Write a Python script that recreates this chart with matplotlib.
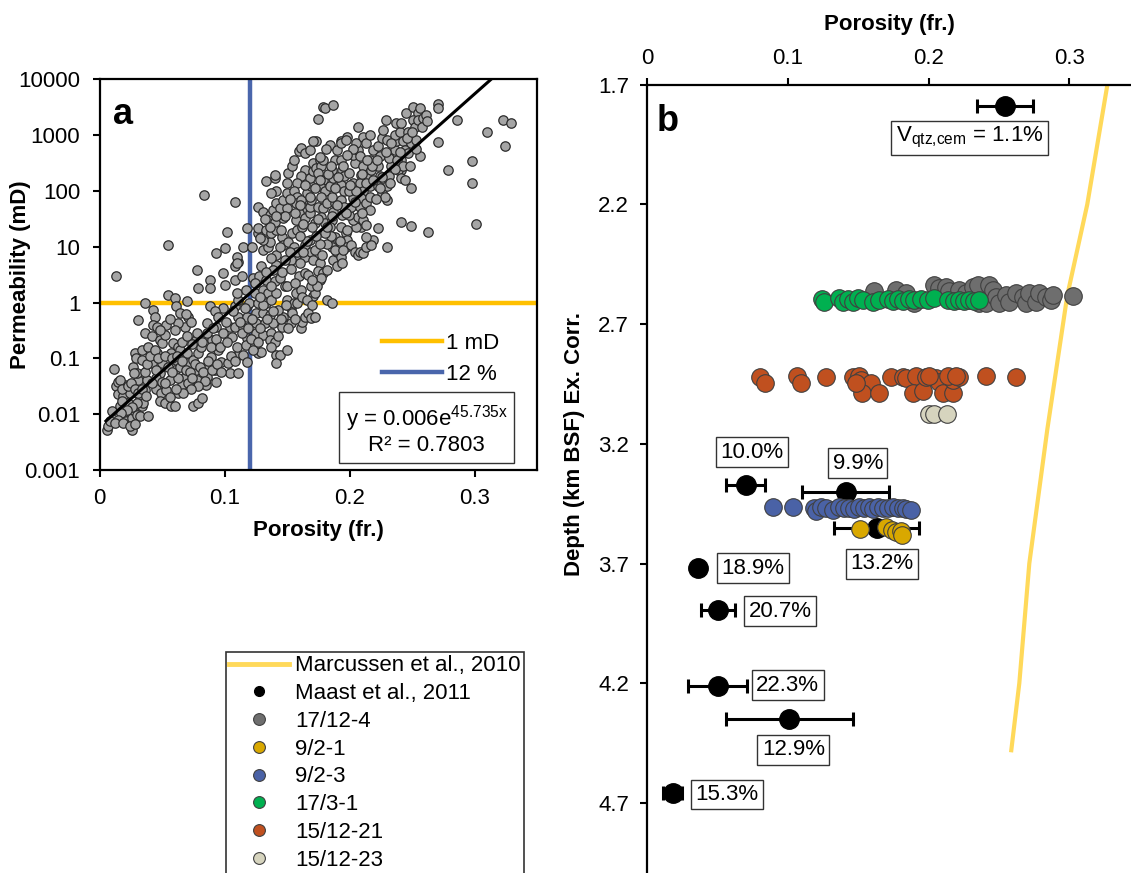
import matplotlib
matplotlib.use('Agg')
import matplotlib.pyplot as plt
from matplotlib.lines import Line2D
import numpy as np

plt.rcParams['font.family'] = ['Liberation Sans', 'DejaVu Sans']
plt.rcParams['mathtext.default'] = 'regular'

# ---------------- Panel a data: porosity (fr.) and log10 permeability (mD) -------------
por_a = [
    0.013, 0.0545, 0.0835, 0.108, 0.271, 0.271, 0.323, 0.329, 0.310, 0.324,
    0.298, 0.298, 0.3015, 0.2785, 0.271, 0.286, 0.263, 0.2495, 0.241, 0.2495,
    0.241, 0.230, 0.230, 0.2225, 0.219, 0.179, 0.180, 0.187, 0.175, 0.173,
    0.1845, 0.193, 0.198, 0.2065,
    0.006, 0.0066, 0.0083, 0.010, 0.0116, 0.013, 0.0144, 0.0144, 0.0166, 0.0185,
    0.019, 0.0205, 0.021, 0.0255, 0.0255, 0.027, 0.023, 0.030, 0.028, 0.027,
    0.029, 0.031, 0.030, 0.032, 0.034, 0.032, 0.030, 0.0277, 0.024, 0.0177,
    0.016, 0.035, 0.039, 0.0365, 0.038, 0.034, 0.031, 0.0365, 0.036, 0.034,
    0.040, 0.042, 0.043, 0.044, 0.043, 0.042, 0.039, 0.046, 0.048, 0.050,
    0.046, 0.050, 0.048, 0.045, 0.045, 0.049, 0.048, 0.052, 0.057, 0.060,
    0.053, 0.050, 0.053, 0.0545, 0.060, 0.061, 0.064, 0.070, 0.071, 0.068,
    0.063, 0.0586, 0.057, 0.063, 0.064, 0.061, 0.060, 0.056, 0.064, 0.067,
    0.070, 0.071, 0.068, 0.066, 0.071, 0.063, 0.075, 0.079, 0.082, 0.077,
    0.078, 0.075, 0.079, 0.081, 0.077, 0.0835, 0.086, 0.079, 0.078, 0.088,
    0.088, 0.088, 0.093, 0.100, 0.1015, 0.099, 0.100, 0.099, 0.092, 0.093,
    0.090, 0.095, 0.089, 0.086, 0.092, 0.086, 0.093, 0.085, 0.097, 0.103,
    0.104, 0.111, 0.111, 0.110, 0.1055, 0.104, 0.1085, 0.111, 0.1085, 0.111,
    0.110, 0.1085, 0.1085, 0.111, 0.114, 0.117, 0.118, 0.118, 0.115, 0.118,
    0.117, 0.115, 0.118, 0.110, 0.110, 0.118, 0.115, 0.122, 0.1225, 0.124,
    0.1195, 0.1265, 0.125, 0.125, 0.125, 0.124, 0.1265, 0.129, 0.1305, 0.132,
    0.1305, 0.133, 0.1305, 0.1275, 0.129, 0.133, 0.135, 0.1375, 0.136, 0.139,
    0.1375, 0.136, 0.140, 0.1415, 0.144, 0.1415, 0.150, 0.146, 0.147, 0.143,
    0.1415, 0.140, 0.144, 0.1485, 0.150, 0.153, 0.153, 0.154, 0.1555, 0.157,
    0.161, 0.1595, 0.164, 0.161, 0.162, 0.164, 0.1665, 0.169, 0.172, 0.171,
    0.172, 0.169, 0.176, 0.182, 0.186, 0.164, 0.157, 0.153, 0.148, 0.1415,
    0.139, 0.1305, 0.135, 0.136, 0.1305, 0.1265, 0.1265, 0.133, 0.1375, 0.1415,
    0.146, 0.147, 0.151, 0.1555, 0.158, 0.154, 0.158, 0.162, 0.164, 0.168,
    0.169, 0.171, 0.176, 0.175, 0.179, 0.182, 0.177, 0.187, 0.190, 0.186,
    0.190, 0.193, 0.194, 0.1885, 0.193, 0.197, 0.198, 0.197, 0.201, 0.204,
    0.2065, 0.208, 0.211, 0.2135, 0.2175, 0.2135, 0.209, 0.205, 0.2025, 0.2065,
    0.211, 0.2135,
    0.1265, 0.1305, 0.136, 0.139, 0.1415, 0.144, 0.1415, 0.1375, 0.133, 0.140,
    0.140, 0.135, 0.140, 0.147, 0.150, 0.147, 0.150, 0.150, 0.151, 0.154,
    0.1555, 0.1595, 0.161, 0.164, 0.168, 0.171, 0.164, 0.161, 0.158, 0.1555,
    0.158, 0.157, 0.161, 0.164, 0.1595, 0.157, 0.164, 0.168, 0.168, 0.169,
    0.166, 0.169, 0.168, 0.171, 0.171, 0.173, 0.176, 0.1775, 0.175, 0.179,
    0.176, 0.180, 0.1775, 0.175, 0.179, 0.182, 0.1775, 0.172, 0.180, 0.186,
    0.1845, 0.187, 0.1885, 0.186, 0.1845, 0.187, 0.186, 0.1885, 0.190, 0.193,
    0.197, 0.193, 0.194, 0.1955, 0.193, 0.1955, 0.193, 0.1955, 0.194, 0.1995,
    0.201, 0.2025, 0.1995, 0.2025, 0.1995, 0.204, 0.2025, 0.2065, 0.205, 0.211,
    0.2135, 0.216, 0.208, 0.211, 0.209, 0.208, 0.211, 0.209, 0.208, 0.2135,
    0.216, 0.216, 0.2145, 0.2175, 0.216, 0.219, 0.223, 0.226, 0.227, 0.230,
    0.2245, 0.223, 0.2245, 0.223, 0.226, 0.230, 0.2315, 0.233, 0.2315, 0.236,
    0.237, 0.236, 0.237, 0.240, 0.2425, 0.244, 0.241, 0.2385, 0.241, 0.247,
    0.2495, 0.247, 0.245, 0.251, 0.255, 0.2565, 0.251, 0.2525, 0.255, 0.259,
    0.2615, 0.2535, 0.2565, 0.241, 0.229,
    0.018, 0.023, 0.025, 0.028, 0.031, 0.034, 0.037, 0.030, 0.026, 0.022,
    0.017, 0.015, 0.012, 0.019, 0.024, 0.028,
    0.036, 0.038, 0.040, 0.044, 0.047, 0.052, 0.055, 0.058, 0.062, 0.066,
    0.069, 0.072, 0.074, 0.076, 0.080, 0.083, 0.087, 0.090, 0.094, 0.097,
    0.084, 0.079, 0.073, 0.067, 0.061, 0.056, 0.052, 0.045, 0.042, 0.063,
    0.058,
    0.066, 0.070, 0.074, 0.078, 0.082, 0.086, 0.089, 0.093, 0.096, 0.099,
    0.102, 0.105, 0.108, 0.101, 0.095, 0.091, 0.073, 0.069, 0.060, 0.056,
    0.052, 0.048,
    0.107, 0.112, 0.114, 0.116, 0.119, 0.122, 0.121, 0.123, 0.127, 0.128,
    0.131, 0.134, 0.137, 0.139, 0.143, 0.145, 0.149, 0.151, 0.156, 0.158,
    0.162, 0.166, 0.170, 0.174,
    0.124, 0.128, 0.133, 0.137, 0.141, 0.146, 0.150, 0.153, 0.156, 0.160,
    0.163, 0.167, 0.170, 0.172, 0.178, 0.182, 0.185, 0.188, 0.192, 0.195,
    0.198, 0.176, 0.180, 0.173, 0.166, 0.160, 0.152, 0.144, 0.137,
    0.205, 0.213, 0.218, 0.222, 0.226, 0.229, 0.233, 0.238, 0.243, 0.246,
    0.250, 0.253, 0.258, 0.262, 0.203, 0.198, 0.195, 0.191, 0.188, 0.183,
    0.179, 0.176, 0.172, 0.168, 0.164, 0.160, 0.156, 0.152, 0.148, 0.145,
    0.141, 0.136, 0.132, 0.128, 0.190, 0.197, 0.204, 0.210, 0.214, 0.219,
    0.224, 0.228, 0.232, 0.236, 0.240, 0.244, 0.248, 0.216, 0.221, 0.210,
    0.200, 0.185, 0.181, 0.176, 0.186, 0.182, 0.175, 0.170, 0.163,
]
log10_perm_a = [
    0.48, 1.03, 1.93, 1.81, 3.56, 3.48, 3.27, 3.21, 3.05, 2.81,
    2.54, 2.15, 1.41, 2.38, 2.87, 3.27, 1.27, 1.38, 1.45, 2.05,
    2.37, 1.84, 1.00, 1.33, 1.12, 3.51, 3.48, 3.54, 3.29, 2.89,
    2.83, 2.90, 2.96, 3.15,
    -2.29, -2.21, -2.13, -1.95, -1.19, -1.49, -1.43, -1.64, -1.86, -1.68,
    -1.98, -1.48, -2.13, -2.29, -2.07, -1.92, -1.80, -2.01, -0.91, -1.15,
    -1.00, -1.39, -1.62, -1.71, -1.86, -2.04, -1.27, -1.27, -1.62, -1.77,
    -1.39, -1.80, -2.04, -1.57, -1.39, -0.85, -0.31, 0.00, -0.55, -1.03,
    -1.06, -1.09, -0.13, -0.26, -0.40, -0.60, -0.79, -0.43, -0.67, -0.73,
    -0.91, -1.09, -1.27, -1.36, -1.54, -1.62, -1.77, -1.80, -1.86, -1.86,
    -1.57, -1.42, -0.40, 0.14, 0.08, -0.07, -0.19, 0.02, -0.25, -0.43,
    -0.37, -0.73, -0.91, -0.79, -0.85, -1.03, -1.21, -1.39, -1.15, -1.03,
    -0.91, -1.09, -1.33, -1.48, -1.45, -1.62, -1.86, -1.80, -1.71, -1.21,
    -1.39, -1.03, -0.91, -0.79, -0.67, -0.61, -0.37, 0.26, 0.59, 0.41,
    0.26, -0.07, 0.88, 0.97, 1.27, 0.53, 0.32, -0.10, -0.16, -0.43,
    -0.67, -0.85, -0.97, -1.15, -1.21, -1.33, -1.42, -1.48, -1.06, -1.09,
    -1.27, -1.27, -0.94, -0.79, -0.61, -0.43, -0.43, -0.25, -0.07, 0.05,
    0.17, 0.41, 0.65, 0.73, 0.47, 0.23, -0.07, -0.25, -0.43, -0.64,
    -0.76, -0.94, -1.06, 0.82, 0.70, 1.33, 1.00, 1.00, 0.44, 0.17,
    -0.01, -0.01, -0.19, -0.37, -0.55, -0.76, -0.91, -0.88, -0.58, -0.37,
    -0.19, -0.01, 0.23, 0.47, 0.65, 0.41, 0.17, 0.05, -0.22, -0.37,
    -0.55, -0.67, -0.70, -0.94, -0.94, -1.09, -0.85, -0.43, -0.25, -0.13,
    0.17, 0.38, 0.44, 0.29, 0.05, -0.10, -0.37, -0.19, -0.01, 0.17,
    0.23, 0.47, 0.53, -0.46, -0.34, -0.25, -0.19, -0.28, -0.25, 0.11,
    0.17, 0.29, 0.41, 0.05, -0.01, 0.82, 0.85, 0.76, 0.76, 0.68,
    0.59, 0.94, 1.00, 1.09, 1.12, 1.24, 1.33, 1.30, 1.24, 1.30,
    1.18, 1.03, 1.09, 1.00, 0.91, 1.24, 1.30, 1.36, 1.03, 1.12,
    0.91, 0.76, 0.70, 0.56, 0.53, 0.59, 0.44, 0.76, 0.65, 1.00,
    0.91, 0.82, 0.70, 1.18, 1.36, 1.24, 1.12, 1.00, 1.03, 0.91,
    0.85, 0.91, 0.88, 1.00, 1.03, 1.18, 1.36, 1.36, 1.48, 1.54,
    1.48, 1.39,
    1.72, 1.63, 1.57, 1.66, 1.78, 1.69, 1.99, 1.96, 2.17, 2.23,
    2.29, 1.48, 1.45, 1.51, 1.69, 1.84, 1.96, 2.14, 2.32, 2.44,
    2.56, 2.71, 2.77, 2.68, 2.74, 2.89, 2.38, 2.26, 2.14, 1.99,
    1.90, 1.78, 1.84, 1.69, 1.60, 1.48, 1.51, 1.60, 1.72, 1.84,
    1.96, 2.08, 2.23, 2.35, 2.50, 2.41, 2.56, 2.44, 2.32, 2.20,
    2.08, 1.99, 1.90, 1.72, 1.69, 1.78, 1.54, 1.42, 1.42, 1.48,
    1.36, 1.63, 1.78, 1.90, 2.08, 2.23, 2.38, 2.56, 2.74, 2.86,
    2.92, 2.56, 2.38, 2.26, 2.11, 1.99, 1.84, 1.72, 1.57, 1.57,
    1.72, 1.87, 1.99, 2.14, 2.32, 2.50, 2.65, 2.74, 2.86, 2.97,
    2.86, 3.00, 2.62, 2.44, 2.29, 2.14, 1.99, 1.87, 1.72, 1.78,
    1.90, 2.08, 2.23, 2.38, 2.56, 2.74, 2.80, 2.95, 3.09, 2.92,
    2.62, 2.44, 2.26, 2.08, 1.96, 2.08, 2.26, 2.44, 2.59, 2.74,
    2.89, 3.00, 3.21, 3.06, 2.89, 2.74, 2.56, 2.38, 2.23, 2.68,
    2.86, 3.06, 3.39, 3.51, 3.39, 3.48, 3.27, 3.15, 3.27, 3.30,
    3.36, 2.92, 2.62, 3.21, 3.27,
    -1.55, -1.50, -1.45, -1.55, -1.62, -1.55, -1.68, -1.80, -1.87, -1.92,
    -1.98, -2.10, -2.15, -2.15, -2.21, -2.18,
    -1.25, -1.10, -0.95, -0.85, -1.00, -0.95, -1.15, -1.00, -0.95, -1.05,
    -1.20, -1.25, -1.35, -1.10, -1.15, -1.25, -1.05, -1.20, -1.10, -1.25,
    -1.40, -1.50, -1.55, -1.62, -1.55, -1.70, -1.45, -1.20, -1.45, -1.35,
    -1.25,
    -0.70, -0.60, -0.75, -0.55, -0.70, -0.55, -0.80, -0.65, -0.80, -0.55,
    -0.70, -0.95, -1.05, -0.35, -0.25, -0.45, -0.35, -0.20, -0.50, -0.30,
    -0.58, -0.50,
    -0.15, -0.35, -0.55, -0.10, -0.45, -0.30, -0.65, -0.85, -0.70, -0.45,
    -0.05, -0.30, -0.80, -0.15, -0.60, -0.30, -0.05, -0.45, -0.30, 0.00,
    0.10, 0.05, -0.05, 0.30,
    0.35, 0.10, 0.55, 0.30, 0.85, 0.55, 0.30, 0.60, 0.35, 0.70,
    0.90, 0.50, 0.40, 0.95, 0.85, 1.05, 1.20, 0.95, 1.10, 0.95,
    1.30, 1.05, 1.25, 1.20, 1.10, 1.20, 0.90, 1.00, 0.80,
    2.00, 2.15, 2.45, 2.55, 2.25, 2.70, 2.85, 2.55, 2.45, 2.95,
    3.05, 2.75, 3.15, 3.25, 2.75, 2.65, 2.45, 2.25, 2.05, 2.30,
    2.55, 2.20, 2.05, 1.90, 2.10, 1.75, 1.60, 1.85, 1.55, 1.30,
    1.55, 1.35, 1.50, 1.15, 1.75, 1.60, 1.80, 2.30, 2.55, 2.20,
    2.05, 1.90, 2.15, 2.40, 2.70, 2.20, 2.45, 1.65, 1.85, 1.60,
    2.10, 2.45, 2.75, 2.60, 1.55, 1.35, 1.50, 1.35, 1.40,
]
perm_a = 10.0 ** np.array(log10_perm_a)

# trend line coefficients shown on the chart: y = a * exp(b x)
fit_a, fit_b = 0.006, 45.735
fit_por_range = (0.005, 0.313)
cutoff_perm = 1.0      # 1 mD
cutoff_por = 0.12      # 12 %

# ---------------- Panel b data: porosity vs depth (km BSF) -------------
marc_por = [0.327, 0.3127, 0.2985, 0.2843, 0.2715, 0.2644, 0.2587]
marc_depth = [1.70, 2.20, 2.58, 3.14, 3.70, 4.20, 4.48]

maast_por = [0.254, 0.070, 0.141, 0.163, 0.036, 0.050, 0.050, 0.101, 0.018]
maast_depth = [1.788, 3.372, 3.401, 3.550, 3.717, 3.894, 4.212, 4.350, 4.659]
maast_err = [0.020, 0.014, 0.031, 0.030, 0.0, 0.012, 0.021, 0.045, 0.007]
maast_labels = ['V$_{qtz{,}cem}$ = 1.1%', '10.0%', '9.9%', '13.2%', '18.9%',
                '20.7%', '22.3%', '12.9%', '15.3%']

w17_12_4_por = [0.1613, 0.1767, 0.1838, 0.1898, 0.2040, 0.2075, 0.2123, 0.2147, 0.2182, 0.2217,
                0.2265, 0.2312, 0.2348, 0.2360, 0.2407, 0.2431, 0.2454, 0.2478, 0.2502, 0.2549,
                0.2573, 0.2620, 0.2667, 0.2691, 0.2715, 0.2763, 0.2786, 0.2834, 0.2869, 0.2881,
                0.3023]
w17_12_4_depth = [2.560, 2.558, 2.569, 2.613, 2.537, 2.551, 2.544, 2.560, 2.599, 2.558,
                  2.571, 2.544, 2.537, 2.613, 2.613, 2.537, 2.558, 2.586, 2.613, 2.578,
                  2.606, 2.571, 2.586, 2.613, 2.571, 2.606, 2.571, 2.586, 2.599, 2.578,
                  2.583]

w9_2_1_por = [0.151, 0.170, 0.174, 0.177, 0.180, 0.181]
w9_2_1_depth = [3.555, 3.546, 3.560, 3.570, 3.565, 3.580]

w9_2_3_por = [0.0891, 0.1033, 0.1187, 0.1199, 0.1234, 0.1270, 0.1317, 0.1365, 0.1400, 0.1436,
              0.1471, 0.1507, 0.1542, 0.1578, 0.1601, 0.1637, 0.1672, 0.1708, 0.1743, 0.1779,
              0.1815, 0.1838, 0.1874]
w9_2_3_depth = [3.465, 3.465, 3.470, 3.480, 3.465, 3.470, 3.475, 3.465, 3.470, 3.468,
                3.472, 3.465, 3.470, 3.466, 3.472, 3.465, 3.470, 3.468, 3.465, 3.470,
                3.468, 3.472, 3.475]

w17_3_1_por = [0.1241, 0.1258, 0.1365, 0.1388, 0.1424, 0.1459, 0.1495, 0.1530, 0.1601, 0.1649,
               0.1708, 0.1743, 0.1779, 0.1815, 0.1862, 0.1898, 0.1945, 0.1992, 0.2040, 0.2134,
               0.2182, 0.2217, 0.2253, 0.2289, 0.2324, 0.2360]
w17_3_1_depth = [2.596, 2.606, 2.592, 2.606, 2.596, 2.606, 2.592, 2.599, 2.606, 2.599,
                 2.596, 2.602, 2.596, 2.602, 2.596, 2.599, 2.596, 2.599, 2.592, 2.599,
                 2.602, 2.599, 2.602, 2.599, 2.602, 2.599]

w15_12_21_por = [0.0801, 0.0839, 0.1061, 0.1092, 0.1270, 0.1459, 0.1507, 0.1519, 0.1590, 0.1526,
                 0.1649, 0.1732, 0.1815, 0.1838, 0.1910, 0.1886, 0.1957, 0.1981, 0.2052, 0.2075,
                 0.2099, 0.2170, 0.2170, 0.2217, 0.2407, 0.2620, 0.1483, 0.2004, 0.2134, 0.2194]
w15_12_21_depth = [2.920, 2.947, 2.917, 2.947, 2.922, 2.920, 2.917, 2.933, 2.945, 2.987,
                   2.989, 2.920, 2.920, 2.926, 2.917, 2.987, 2.978, 2.920, 2.926, 2.941,
                   2.987, 2.987, 2.933, 2.920, 2.917, 2.920, 2.947, 2.915, 2.917, 2.915]

w15_12_23_por = [0.200, 0.204, 0.213]
w15_12_23_depth = [3.076, 3.076, 3.076]

# annotation label positions (porosity, depth)
label_pos = [(0.229, 1.922), (0.0742, 3.235), (0.1496, 3.281), (0.1666, 3.701), (0.075, 3.719),
             (0.0945, 3.899), (0.0999, 4.208), (0.1038, 4.479), (0.0564, 4.665)]

# ---------------- Figure ----------------
W, H = 1131, 873
fig = plt.figure(figsize=(W / 100, H / 100), dpi=100)

FS = 16
axa = fig.add_axes([99.7 / W, 1 - 470 / H, (537 - 99.7) / W, (470 - 79.3) / H])
axa.scatter(por_a, perm_a, s=46, facecolor='#A5A5A5', edgecolor='#2b2b2b',
            linewidths=0.9, zorder=3)
l1 = axa.axhline(cutoff_perm, color='#FFC000', lw=3.2, zorder=2, label='1 mD')
l2 = axa.axvline(cutoff_por, color='#4A66AC', lw=3.2, zorder=2, label='12 %')
xf = np.linspace(fit_por_range[0], fit_por_range[1], 100)
axa.plot(xf, fit_a * np.exp(fit_b * xf), color='black', lw=2.2, zorder=4)
axa.set_yscale('log')
axa.set_xlim(0, 0.35)
axa.set_ylim(0.001, 10000)
axa.set_xticks([0, 0.1, 0.2, 0.3])
axa.set_xticklabels(['0', '0.1', '0.2', '0.3'])
yt = [0.001, 0.01, 0.1, 1, 10, 100, 1000, 10000]
axa.set_yticks(yt)
axa.set_yticklabels(['0.001', '0.01', '0.1', '1', '10', '100', '1000', '10000'])
axa.minorticks_off()
axa.tick_params(direction='out', length=5, width=1.5, labelsize=FS)
axa.tick_params(axis='y', pad=9)
axa.tick_params(axis='x', pad=8)
for sp in axa.spines.values():
    sp.set_linewidth(1.6)
axa.set_xlabel('Porosity (fr.)', fontsize=16, fontweight='bold')
axa.set_ylabel('Permeability (mD)', fontsize=16, fontweight='bold')
axa.xaxis.set_label_coords(0.5, -0.127)
axa.xaxis.label.set_va('top')
axa.yaxis.set_label_coords(-0.156, 0.5)
axa.text(0.03, 0.955, 'a', transform=axa.transAxes, fontsize=26, fontweight='bold',
         va='top', ha='left')
axa.legend(handles=[l1, l2], loc='upper left', bbox_to_anchor=(0.645, 0.35),
           frameon=False, fontsize=16, handlelength=2.7, handletextpad=0.2,
           borderpad=0, borderaxespad=0, labelspacing=0.45)
axa.text(0.748, 0.104, 'y = 0.006e$^{45.735x}$\nR² = 0.7803', transform=axa.transAxes,
         fontsize=16, ha='center', va='center', linespacing=1.1,
         bbox=dict(boxstyle='square,pad=0.3', facecolor='white', edgecolor='#333333', lw=1.0),
         zorder=5)

# ---------------- Panel b ----------------
x0 = 647.3
axb = fig.add_axes([x0 / W, 0, 1 - x0 / W, 1 - 84.7 / H])
axb.set_xlim(0, (W - x0) / 1407)
axb.set_ylim(1.7 + (H - 84.7) / 239.4, 1.7)
axb.xaxis.tick_top()
axb.xaxis.set_label_position('top')
axb.set_xticks([0, 0.1, 0.2, 0.3])
axb.set_xticklabels(['0', '0.1', '0.2', '0.3'])
axb.set_yticks([1.7, 2.2, 2.7, 3.2, 3.7, 4.2, 4.7])
axb.set_yticklabels(['1.7', '2.2', '2.7', '3.2', '3.7', '4.2', '4.7'])
axb.spines['right'].set_visible(False)
axb.spines['bottom'].set_visible(False)
for sp in ['top', 'left']:
    axb.spines[sp].set_linewidth(1.6)
axb.tick_params(direction='out', length=5, width=1.5, labelsize=FS)
axb.tick_params(axis='y', pad=8)
axb.tick_params(axis='x', pad=6)
axb.set_xlabel('Porosity (fr.)', fontsize=16, fontweight='bold')
axb.set_ylabel('Depth (km BSF) Ex. Corr.', fontsize=16, fontweight='bold')
axb.xaxis.set_label_coords(0.5, 1 + (84.7 - 35) / (H - 84.7))
axb.xaxis.label.set_va('bottom')
axb.yaxis.set_label_coords((585 - x0) / (W - x0), (H - 444) / (H - 84.7))
axb.text(0.02, 0.975, 'b', transform=axb.transAxes, fontsize=26, fontweight='bold',
         va='top', ha='left')

axb.plot(marc_por, marc_depth, color='#FFD95A', lw=3.0, zorder=1)
axb.errorbar(maast_por, maast_depth, xerr=maast_err, fmt='o', color='black', ms=14,
             ecolor='black', elinewidth=2.2, capsize=5, capthick=2.2, zorder=2)

ekw = dict(s=160, edgecolors='#404040', linewidths=0.8, zorder=3)
axb.scatter(w17_12_4_por, w17_12_4_depth, color='#6E6E6E', **ekw)
axb.scatter(w17_3_1_por, w17_3_1_depth, color='#00B050', **ekw)
axb.scatter(w15_12_21_por, w15_12_21_depth, color='#C0501F', **ekw)
axb.scatter(w15_12_23_por, w15_12_23_depth, color='#D6D4BE', **ekw)
axb.scatter(w9_2_3_por, w9_2_3_depth, color='#4A62A6', **ekw)
axb.scatter(w9_2_1_por, w9_2_1_depth, color='#D9A800', **ekw)

for lab, (px, py) in zip(maast_labels, label_pos):
    axb.text(px, py, lab, fontsize=16, ha='center', va='center', zorder=6,
             bbox=dict(boxstyle='square,pad=0.2', facecolor='white', edgecolor='#333333', lw=1.0))

# ---------------- Legend for panel b ----------------
def mk(c):
    return Line2D([], [], ls='none', marker='o', ms=8.5, markerfacecolor=c,
                  markeredgecolor='#404040', markeredgewidth=0.8)

handles = [Line2D([], [], color='#FFD95A', lw=3.5),
           Line2D([], [], ls='none', marker='o', ms=7, color='black'),
           mk('#6E6E6E'), mk('#D9A800'), mk('#4A62A6'), mk('#00B050'),
           mk('#C0501F'), mk('#D6D4BE')]
labels = ['Marcussen et al., 2010', 'Maast et al., 2011', '17/12-4', '9/2-1', '9/2-3',
          '17/3-1', '15/12-21', '15/12-23']
leg = fig.legend(handles, labels, loc='upper left', bbox_to_anchor=(226 / W, 1 - 652 / H),
                 fontsize=16, frameon=True, fancybox=False, edgecolor='black',
                 borderpad=0.15, handlelength=2.7, handletextpad=0.25, labelspacing=0.305,
                 borderaxespad=0)
leg.get_frame().set_linewidth(1.2)

fig.savefig('out.png', dpi=100)
